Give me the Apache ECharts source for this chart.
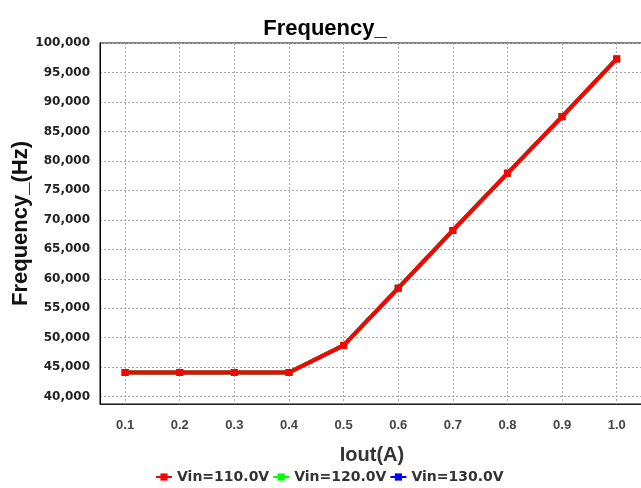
<!DOCTYPE html>
<html>
<head>
<meta charset="utf-8">
<script src="https://cdn.jsdelivr.net/npm/echarts@6/dist/echarts.min.js"></script>
<style>
  html, body { margin: 0; padding: 0; background: #fff; }
  #main { width: 641px; height: 488px; }
</style>
</head>
<body>
<div id="main"></div>
<script>
// 数据
var iout = [0.1, 0.2, 0.3, 0.4, 0.5, 0.6, 0.7, 0.8, 0.9, 1.0];
var freq110 = [44100, 44100, 44100, 44100, 48700, 58400, 68200, 77900, 87500, 97300];
var freq120 = [44100, 44100, 44100, 44100, 48700, 58400, 68200, 77900, 87500, 97300];
var freq130 = [44100, 44100, 44100, 44100, 48700, 58400, 68200, 77900, 87500, 97300];
var xTicks = [0.1, 0.2, 0.3, 0.4, 0.5, 0.6, 0.7, 0.8, 0.9, 1.0];
var yTicks = [40000, 45000, 50000, 55000, 60000, 65000, 70000, 75000, 80000, 85000, 90000, 95000, 100000];
var seriesNames = ['Vin=110.0V', 'Vin=120.0V', 'Vin=130.0V'];
var seriesColors = ['#ff0000', '#00ff00', '#0000ff'];

function pairs(ys) {
    return iout.map(function (x, i) { return [x, ys[i]]; });
}

function makeSeries(name, color, ys, z) {
    return {
        name: name,
        type: 'line',
        z: z,
        data: pairs(ys),
        symbol: 'rect',
        symbolSize: 7,
        showSymbol: true,
        lineStyle: { color: color, width: 4 },
        itemStyle: { color: color },
        emphasis: { disabled: true }
    };
}

var myChart = echarts.init(document.getElementById('main'));

var gridLine = { show: true, lineStyle: { color: '#a8a8a8', width: 1, type: [2, 2] } };

var option = {
    animation: false,
    backgroundColor: '#fff',
    title: {
        text: 'Frequency_',
        left: 325,
        top: 18,
        padding: 0,
        textAlign: 'center',
        textStyle: { fontFamily: 'Liberation Sans', fontWeight: 'bold', fontSize: 22, color: '#000' }
    },
    legend: {
        data: seriesNames,
        left: 155,
        top: 470,
        padding: 0,
        itemGap: 3,
        itemWidth: 16,
        itemHeight: 9,
        textStyle: { fontFamily: 'DejaVu Sans', fontWeight: 'bold', fontSize: 14, color: '#333' }
    },
    grid: {
        left: 100,
        top: 43,
        right: -3,
        bottom: 84,
        outerBoundsMode: 'none',
        containLabel: false,
        show: true,
        borderColor: '#000',
        borderWidth: 1
    },
    xAxis: {
        type: 'value',
        min: 0.054,
        max: 1.05,
        name: 'Iout(A)',
        nameLocation: 'middle',
        nameGap: 41,
        nameMoveOverlap: false,
        nameTextStyle: { fontFamily: 'Liberation Sans', fontWeight: 'bold', fontSize: 20, color: '#333' },
        axisLine: { show: true, lineStyle: { color: '#222', width: 1 } },
        axisTick: { show: false, customValues: xTicks },
        axisLabel: {
            customValues: xTicks,
            margin: 15,
            fontFamily: 'Liberation Sans',
            fontWeight: 'bold',
            fontSize: 13,
            color: '#444',
            formatter: function (v) { return v.toFixed(1); }
        },
        splitLine: gridLine
    },
    yAxis: {
        type: 'value',
        min: 38760,
        max: 100000,
        name: 'Frequency_(Hz)',
        nameLocation: 'middle',
        nameGap: 68,
        nameMoveOverlap: false,
        nameTextStyle: { fontFamily: 'Liberation Sans', fontWeight: 'bold', fontSize: 22, color: '#111' },
        axisLine: { show: true, lineStyle: { color: '#000', width: 1 } },
        axisTick: { show: false, customValues: yTicks },
        axisLabel: {
            customValues: yTicks,
            margin: 10,
            fontFamily: 'DejaVu Sans',
            fontWeight: 'bold',
            fontSize: 12,
            color: '#222',
            formatter: function (v) { return v.toLocaleString('en-US'); }
        },
        splitLine: gridLine
    },
    series: [
        makeSeries(seriesNames[0], seriesColors[0], freq110, 5),
        makeSeries(seriesNames[1], seriesColors[1], freq120, 4),
        makeSeries(seriesNames[2], seriesColors[2], freq130, 3)
    ]
};

myChart.setOption(option);
</script>
</body>
</html>
